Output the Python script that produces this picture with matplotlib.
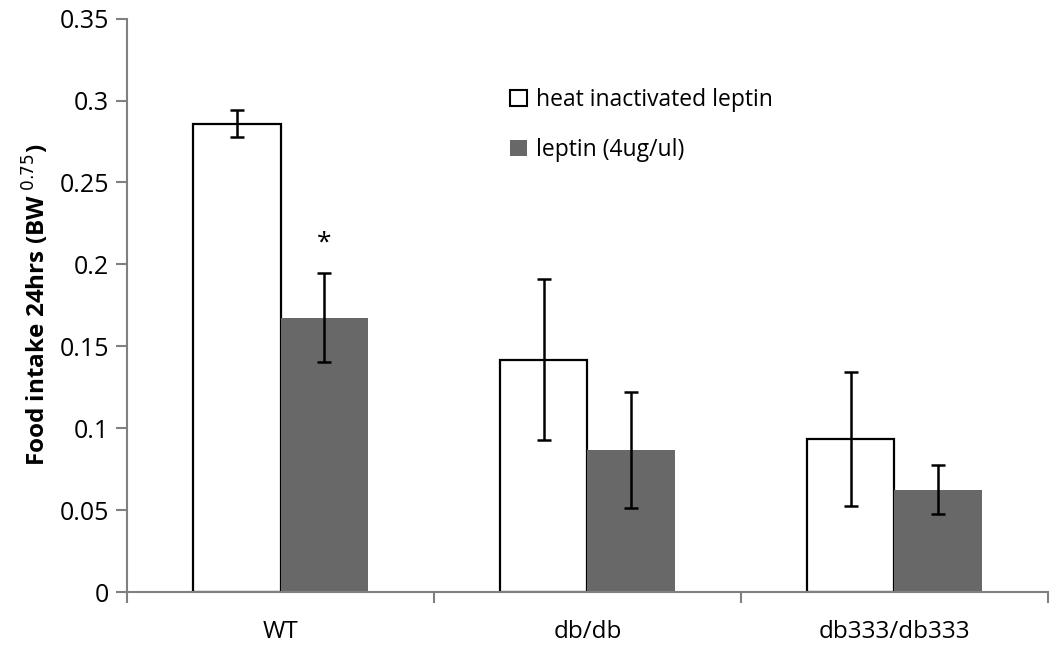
import matplotlib.pyplot as plt
import numpy as np
from matplotlib.patches import Patch

plt.rcParams['font.family'] = ['Open Sans', 'DejaVu Sans']

groups = ["WT", "db/db", "db333/db333"]
heat_inact = [0.286, 0.1418, 0.0933]
heat_err = [0.0085, 0.049, 0.041]
leptin = [0.1675, 0.0866, 0.0625]
leptin_err = [0.027, 0.0355, 0.015]
series_names = ["heat inactivated leptin", "leptin (4ug/ul)"]

fig = plt.figure(figsize=(10.5, 6.53), dpi=100)
ax = fig.add_axes([0.121, 0.0934, 0.877, 0.878])

x = np.arange(len(groups))
w = 0.2857
ekw = dict(ecolor="black", elinewidth=1.8, capsize=5, capthick=1.8)
ax.bar(x - w / 2, heat_inact, w, color="white", edgecolor="black", linewidth=1.6,
       yerr=heat_err, error_kw=ekw, zorder=2)
ax.bar(x + w / 2, leptin, w, color="#686868", edgecolor="none",
       yerr=leptin_err, error_kw=ekw, zorder=2)

# significance marker
ax.text(x[0] + w / 2, leptin[0] + leptin_err[0] + 0.011, "*", ha="center", va="bottom",
        fontsize=19)

ax.set_xlim(-0.5, 2.5)
ax.set_ylim(0, 0.35)
ax.set_yticks(np.arange(0, 0.351, 0.05))
ax.set_yticklabels(["0", "0.05", "0.1", "0.15", "0.2", "0.25", "0.3", "0.35"])
ax.set_xticks(x)
ax.set_xticklabels(groups)
ax.set_xticks([-0.5, 0.5, 1.5, 2.5], minor=True)
ax.tick_params(axis="x", which="major", length=0, pad=20, labelsize=17.5)
ax.tick_params(axis="x", which="minor", length=8, color="#808080", width=1.5)
ax.tick_params(axis="y", length=8, color="#808080", width=1.5, labelsize=18, pad=5)

for s in ["top", "right"]:
    ax.spines[s].set_visible(False)
for s in ["left", "bottom"]:
    ax.spines[s].set_color("#808080")
    ax.spines[s].set_linewidth(1.5)

ax.set_ylabel("Food intake 24hrs (BW$^{\\ 0.75}$)", fontsize=17.5, fontweight="bold", labelpad=6)

handles = [Patch(facecolor="white", edgecolor="black", linewidth=1.5),
           Patch(facecolor="#686868", edgecolor="none")]
ax.legend(handles, series_names, loc="upper left", bbox_to_anchor=(0.394, 0.915),
          frameon=False, fontsize=16.5, handlelength=0.7, handleheight=0.7,
          handletextpad=0.4, labelspacing=1.15)

fig.savefig("out.png", dpi=100)
